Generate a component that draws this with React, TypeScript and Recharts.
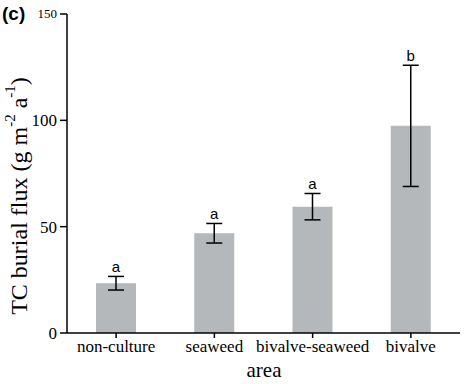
import * as React from "react"
import { Bar, BarChart, ErrorBar, LabelList, XAxis, YAxis } from "recharts"

const areas = ["non-culture", "seaweed", "bivalve-seaweed", "bivalve"]
const flux = [23.4, 46.9, 59.4, 97.4]
const fluxErr = [3.2, 4.6, 6.2, 28.5]
const letters = ["a", "a", "a", "b"]
const yTicks = [0, 50, 100, 150]

const data = areas.map((area, i) => ({ area, flux: flux[i], err: fluxErr[i], letter: letters[i] }))

const serif = "'Liberation Serif', 'Times New Roman', serif"
const sans = "'Liberation Sans', Arial, sans-serif"

const YTick = (props: any) => {
    const { x, y, payload } = props
    const small = payload.value === 150
    return (
        <text x={x - 1} y={y} dy={small ? 4 : 6} textAnchor="end" fontFamily={serif} fontSize={small ? 13 : 17} fill="#000">
            {payload.value}
        </text>
    )
}

const LetterLabel = (props: any) => {
    const { x, y, width, height, index } = props
    // pixel per unit from the bar itself, to sit above the error cap
    const top = y - fluxErr[index] * (height / flux[index])
    return (
        <text x={x + width / 2} y={top - 4} textAnchor="middle" fontFamily={sans} fontSize={15} fill="#000">
            {letters[index]}
        </text>
    )
}

export default function App() {
    return (
        <div style={{ position: "absolute", left: 0, top: 0, width: 466, height: 384, background: "#fff" }}>
            <BarChart
                width={466}
                height={384}
                data={data}
                margin={{ top: 14, right: 6, left: 0, bottom: 0 }}
                barSize={40}
            >
                <XAxis
                    dataKey="area"
                    height={51}
                    stroke="#000"
                    strokeWidth={1.5}
                    tickSize={5}
                    tick={{ fontFamily: serif, fontSize: 17, fill: "#000" }}
                    interval={0}
                />
                <YAxis
                    width={67}
                    domain={[0, 150]}
                    ticks={yTicks}
                    stroke="#000"
                    strokeWidth={1.5}
                    tickSize={7}
                    tick={<YTick />}
                />
                <Bar dataKey="flux" fill="#b4b8bb" isAnimationActive={false}>
                    <ErrorBar dataKey="err" width={8} stroke="#000" strokeWidth={1.5} />
                    <LabelList dataKey="letter" content={<LetterLabel />} />
                </Bar>
                <text x={264} y={377} textAnchor="middle" fontFamily={serif} fontSize={21} fill="#000">area</text>
                <text x={19} y={196} transform="rotate(-90 19 196)" textAnchor="middle" dominantBaseline="central" fontFamily={serif} fontSize={24} fill="#000">
                    TC burial flux (g m<tspan dy={-9} fontSize={15}>-2</tspan><tspan dy={9}> a</tspan><tspan dy={-9} fontSize={15}>-1</tspan><tspan dy={9}>)</tspan>
                </text>
                <text x={2} y={20} fontFamily={sans} fontSize={19} fontWeight="bold" fill="#000">(c)</text>
            </BarChart>
        </div>
    )
}
